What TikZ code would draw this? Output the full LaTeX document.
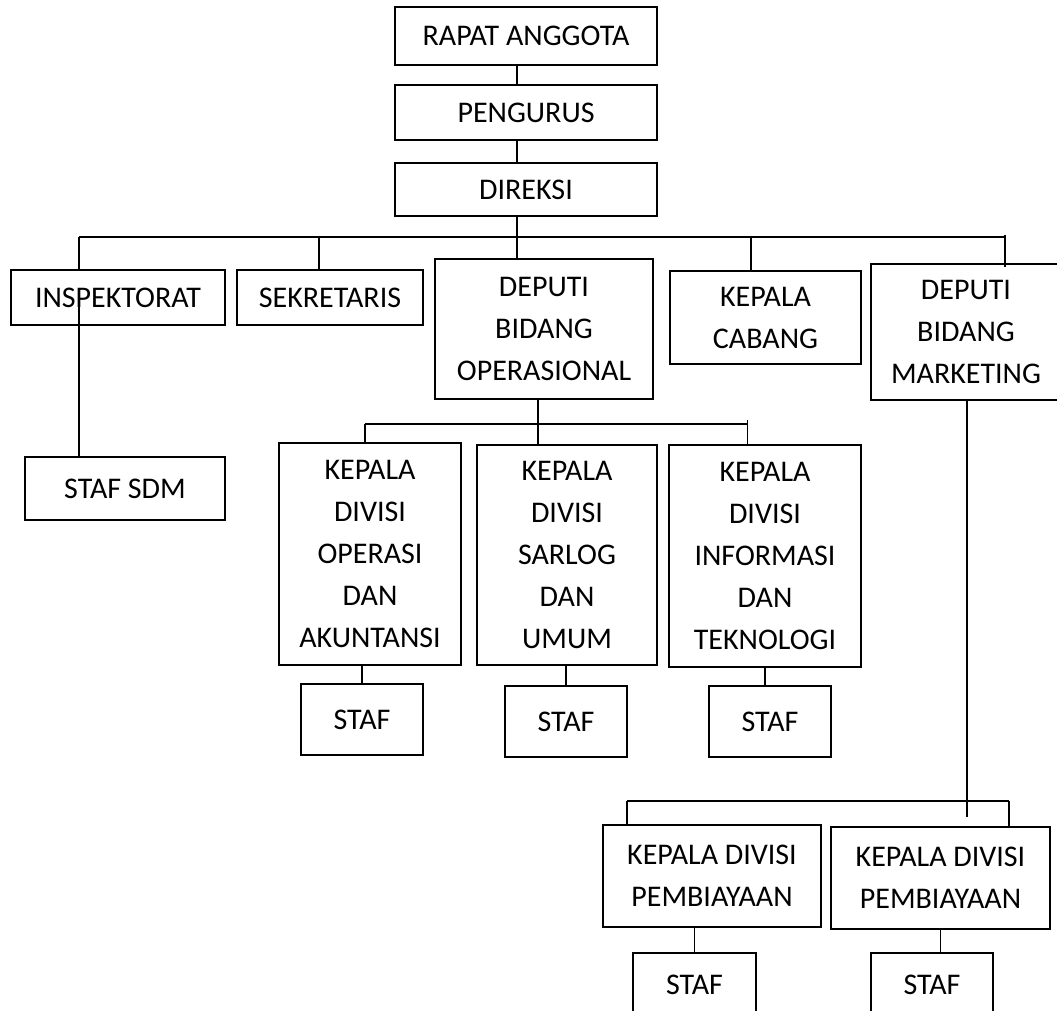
\documentclass[tikz,border=0pt]{standalone}
\usepackage{fontspec}
\setmainfont{Carlito}
\usepackage{tikz}

\begin{document}
\begin{tikzpicture}[x=1pt,y=-1pt,
  bx/.style={draw,line width=1.9pt,inner sep=0pt,align=center,
             font=\fontsize{30}{42}\selectfont},
  ln/.style={line width=1.9pt}]
  \clip (0,0) rectangle (1057,1011);
  % top of the chart
  \node[bx,minimum width=262,minimum height=58] (rapat) at (526,36) {RAPAT ANGGOTA};
  \node[bx,minimum width=262,minimum height=55] (peng) at (526,112.5) {PENGURUS};
  \node[bx,minimum width=262,minimum height=53] (dir) at (526,189.5) {DIREKSI};
  % first row
  \node[bx,minimum width=214,minimum height=55] (insp) at (118,297.5) {INSPEKTORAT};
  \node[bx,minimum width=186,minimum height=55] (sek) at (330,297.5) {SEKRETARIS};
  \node[bx,minimum width=218,minimum height=140] (dop) at (544,329) {DEPUTI\\BIDANG\\OPERASIONAL};
  \node[bx,minimum width=191,minimum height=93] (kcab) at (765.5,317.5) {KEPALA\\CABANG};
  \node[bx,minimum width=190,minimum height=136] (mkt) at (966,332) {DEPUTI\\BIDANG\\MARKETING};
  \node[bx,minimum width=200,minimum height=63] (sdm) at (125,488.5) {STAF SDM};
  % divisions under the operational deputy
  \node[bx,minimum width=182,minimum height=222] (kop) at (370,554) {KEPALA\\DIVISI\\OPERASI\\DAN\\AKUNTANSI};
  \node[bx,minimum width=180,minimum height=220] (ksar) at (567,555) {KEPALA\\DIVISI\\SARLOG\\DAN\\UMUM};
  \node[bx,minimum width=192,minimum height=222] (kinf) at (765,556) {KEPALA\\DIVISI\\INFORMASI\\DAN\\TEKNOLOGI};
  \node[bx,minimum width=122,minimum height=71] (s1) at (362,719.5) {STAF};
  \node[bx,minimum width=122,minimum height=71] (s2) at (566,721.5) {STAF};
  \node[bx,minimum width=122,minimum height=71] (s3) at (770,721.5) {STAF};
  % divisions under marketing
  \node[bx,minimum width=218,minimum height=102] (kdp1) at (712,876) {KEPALA DIVISI\\PEMBIAYAAN};
  \node[bx,minimum width=219,minimum height=102] (kdp2) at (940.5,878) {KEPALA DIVISI\\PEMBIAYAAN};
  \node[bx,minimum width=123,minimum height=64] (s4) at (694.5,985) {STAF};
  \node[bx,minimum width=122,minimum height=64] (s5) at (932,985) {STAF};
  % connectors
  \coordinate (b0) at (517,237);
  \coordinate (bL) at (79,237);
  \coordinate (b2) at (319,237);
  \coordinate (b3) at (751,237);
  \coordinate (bR) at (1005,237);
  \draw[ln] (rapat.south -| b0) -- (peng.north -| b0);
  \draw[ln] (peng.south -| b0) -- (dir.north -| b0);
  \draw[ln] (dir.south -| b0) -- (dop.north -| b0);
  \draw[ln] (bL) -- (bR);
  \draw[ln] (bL) -- (insp.north -| bL);
  \draw[ln] (b2) -- (sek.north -| b2);
  \draw[ln] (b3) -- (kcab.north -| b3);
  \draw[ln,shorten <=-2pt,shorten >=-4pt] (bR) -- (mkt.north -| bR);
  \draw[ln,shorten >=-21pt] (sdm.north -| bL) -- (insp.south -| bL);
  \coordinate (c0) at (538,424);
  \coordinate (c1) at (365,424);
  \coordinate (c3) at (747.5,424);
  \draw[ln] (c1) -- (c3);
  \draw[ln] (dop.south -| c0) -- (ksar.north -| c0);
  \draw[ln] (c1) -- (kop.north -| c1);
  \draw[ln,shorten <=-4pt] (c3) -- (kinf.north -| c3);
  \draw[ln] (s1.north) -- (s1.north |- kop.south);
  \draw[ln] (s2.north) -- (s2.north |- ksar.south);
  \draw[ln] (kinf.south) -- (kinf.south |- s3.north);
  \coordinate (m0) at (967,801);
  \coordinate (m1) at (627,801);
  \coordinate (m2) at (1009,801);
  \draw[ln,shorten >=-16pt] (mkt.south -| m0) -- (m0);
  \draw[ln] (m1) -- (m2);
  \draw[ln] (m1) -- (kdp1.north -| m1);
  \draw[ln] (m2) -- (kdp2.north -| m2);
  \draw[ln] (s4.north) -- (s4.north |- kdp1.south);
  \draw[ln] (kdp2.south) -- (kdp2.south |- s5.north);
\end{tikzpicture}
\end{document}
